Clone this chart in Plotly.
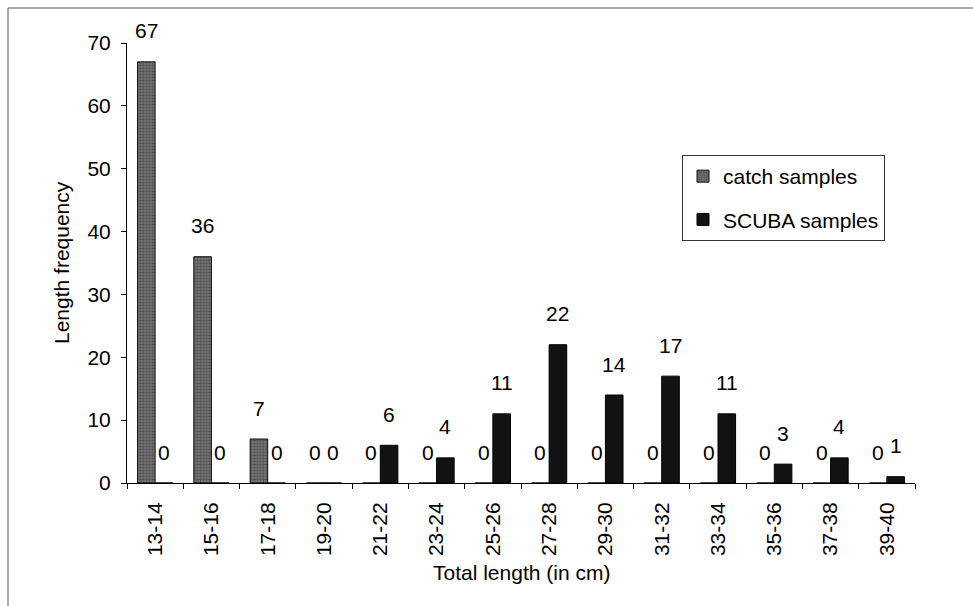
import plotly.graph_objects as go

# Length classes (cm) and counts per sampling method
length_classes = ["13-14", "15-16", "17-18", "19-20", "21-22", "23-24", "25-26",
                  "27-28", "29-30", "31-32", "33-34", "35-36", "37-38", "39-40"]
catch_samples = [67, 36, 7, 0, 0, 0, 0, 0, 0, 0, 0, 0, 0, 0]
scuba_samples = [0, 0, 0, 0, 6, 4, 11, 22, 14, 17, 11, 3, 4, 1]
y_ticks = [0, 10, 20, 30, 40, 50, 60, 70]

W, H = 973, 606
ML, MR, MT, MB = 127, 58, 43, 123
FONT = "Liberation Sans, Arial, sans-serif"
FS = 21

BARGAP = 0.375
plot_w = W - ML - MR
cat_w = plot_w / len(length_classes)
half_bar = cat_w * (1 - BARGAP) / 4  # offset of each bar centre from the category centre

fig = go.Figure()
fig.add_trace(go.Bar(
    name="catch samples", x=length_classes, y=catch_samples,
    marker=dict(color="#6e6e6e", line=dict(color="#111111", width=1),
                pattern=dict(shape=".", fgcolor="#262626", bgcolor="#7c7c7c",
                             size=3, solidity=0.5)),
    legendgroup="a",
))
fig.add_trace(go.Bar(
    name="SCUBA samples", x=length_classes, y=scuba_samples,
    marker=dict(color="#121212", line=dict(color="#000000", width=1)),
    legendgroup="b",
))

# Value labels above each bar (zero-height bars included)
annotations = []
for cat, c, s in zip(length_classes, catch_samples, scuba_samples):
    for val, shift in ((c, -half_bar), (s, half_bar)):
        annotations.append(dict(
            x=cat, y=val, xref="x", yref="y", text=str(val), showarrow=False,
            xshift=shift, yshift=31, yanchor="middle", xanchor="center",
            font=dict(family=FONT, size=FS, color="#000"),
        ))

# Axis titles
annotations.append(dict(x=0.5, y=0, xref="paper", yref="paper", text="Total length (in cm)",
                        showarrow=False, yshift=-89, yanchor="middle", xanchor="center",
                        font=dict(family=FONT, size=FS, color="#000")))
annotations.append(dict(x=0, y=0.5, xref="paper", yref="paper", text="Length frequency",
                        showarrow=False, xshift=-66, textangle=-90, yanchor="middle",
                        xanchor="center", font=dict(family=FONT, size=FS, color="#000")))

plot_h = H - MT - MB
def px_x(p):
    return (p - ML) / plot_w
def px_y(p):
    return 1 - (p - MT) / plot_h

# Outer chart frame
shapes = [dict(type="rect", xref="paper", yref="paper",
               x0=px_x(8), x1=px_x(990), y0=px_y(620), y1=px_y(8),
               line=dict(color="#555555", width=1), layer="below")]

fig.update_layout(
    width=W, height=H,
    margin=dict(l=ML, r=MR, t=MT, b=MB, autoexpand=False),
    paper_bgcolor="white", plot_bgcolor="white",
    barmode="group", bargap=BARGAP, bargroupgap=0,
    font=dict(family=FONT, size=FS, color="#000"),
    showlegend=True,
    legend=dict(x=px_x(682), y=px_y(155), xanchor="left", yanchor="top",
                bgcolor="white", bordercolor="#333333", borderwidth=1,
                tracegroupgap=13, traceorder="grouped",
                font=dict(family=FONT, size=FS, color="#000")),
    annotations=annotations,
    shapes=shapes,
)
fig.update_xaxes(
    type="category", showline=True, linecolor="#000", linewidth=1,
    ticks="outside", tickson="boundaries", ticklen=5, tickcolor="#000",
    tickangle=-90, ticklabelstandoff=10, showgrid=False, zeroline=False,
    tickfont=dict(family=FONT, size=FS, color="#000"),
)
fig.update_yaxes(
    range=[0, 70], tickvals=y_ticks, showline=True, linecolor="#000", linewidth=1,
    ticks="outside", ticklen=5, tickcolor="#000", ticklabelstandoff=6,
    showgrid=False, zeroline=False,
    tickfont=dict(family=FONT, size=FS, color="#000"),
)

fig.write_html("out.html")
